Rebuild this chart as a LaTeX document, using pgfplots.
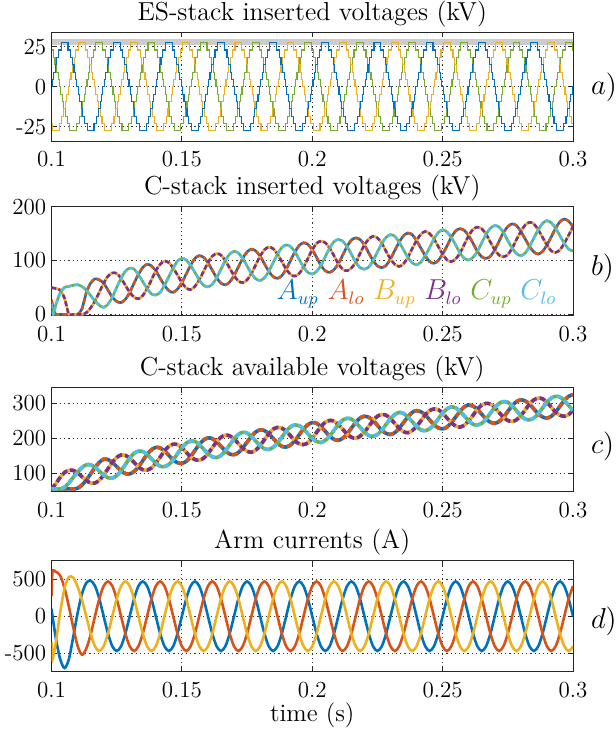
\documentclass[border=0pt]{standalone}
\usepackage{pgfplots}
\pgfplotsset{compat=1.18}
\usepackage{pgfplotstable}
\definecolor{mBlue}{rgb}{0,0.447,0.741}
\definecolor{mRed}{rgb}{0.850,0.325,0.098}
\definecolor{mYel}{rgb}{0.929,0.694,0.125}
\definecolor{mPur}{rgb}{0.494,0.184,0.556}
\definecolor{mGrn}{rgb}{0.466,0.674,0.188}
\definecolor{mCya}{rgb}{0.301,0.745,0.933}

% Panel b: C-stack inserted voltages (kV), A/B/C arm pairs (up = lo)
\pgfplotstableread[row sep=\\]{
t A B C\\
0.10000 27 50 20\\
0.10070 10 49 0\\
0.10167 0 48 18\\
0.10333 0 45 40\\
0.10500 0 30 50\\
0.10667 0 0 52\\
0.10833 0 0 54\\
0.11000 0 0 55\\
0.11167 10 0 52\\
0.11333 40 3 45\\
0.11500 58 12 35\\
0.11667 66 25 25\\
0.11833 64 41 17\\
0.12000 58 58 13\\
0.12167 45 71 19\\
0.12333 32 77 32\\
0.12500 24 76 50\\
0.12667 22 67 67\\
0.12833 28 54 80\\
0.13000 41 41 86\\
0.13167 58 32 84\\
0.13333 74 29 74\\
0.13500 87 35 61\\
0.13667 93 48 48\\
0.13833 90 64 38\\
0.14000 81 81 36\\
0.14167 67 93 41\\
0.14333 54 99 54\\
0.14500 44 96 70\\
0.14667 41 86 86\\
0.14833 47 73 99\\
0.15000 59 59 104\\
0.15167 75 49 101\\
0.15333 91 46 91\\
0.15500 104 52 78\\
0.15667 109 64 64\\
0.15833 106 80 54\\
0.16000 96 96 51\\
0.16167 82 108 56\\
0.16333 68 113 68\\
0.16500 58 110 84\\
0.16667 55 100 100\\
0.16833 60 86 112\\
0.17000 72 72 117\\
0.17167 88 62 114\\
0.17333 104 59 104\\
0.17500 116 64 90\\
0.17667 121 76 76\\
0.17833 118 92 66\\
0.18000 108 108 63\\
0.18167 94 120 68\\
0.18333 80 125 80\\
0.18500 70 122 96\\
0.18667 67 112 112\\
0.18833 72 98 124\\
0.19000 84 84 129\\
0.19167 100 74 126\\
0.19333 116 71 116\\
0.19500 128 76 102\\
0.19667 133 88 88\\
0.19833 130 104 78\\
0.20000 120 120 75\\
0.20167 106 132 80\\
0.20333 91 136 91\\
0.20500 81 133 107\\
0.20667 78 123 123\\
0.20833 83 109 135\\
0.21000 94 94 139\\
0.21167 110 84 136\\
0.21333 126 81 126\\
0.21500 138 86 112\\
0.21667 142 97 97\\
0.21833 139 113 87\\
0.22000 129 129 84\\
0.22167 114 140 88\\
0.22333 100 145 100\\
0.22500 90 142 116\\
0.22667 87 132 132\\
0.22833 91 117 143\\
0.23000 103 103 148\\
0.23167 119 93 145\\
0.23333 134 89 134\\
0.23500 146 94 120\\
0.23667 151 106 106\\
0.23833 148 122 96\\
0.24000 137 137 92\\
0.24167 123 149 97\\
0.24333 109 154 109\\
0.24500 98 150 124\\
0.24667 95 140 140\\
0.24833 100 126 152\\
0.25000 112 112 157\\
0.25167 127 101 153\\
0.25333 143 98 143\\
0.25500 155 103 129\\
0.25667 159 114 114\\
0.25833 156 130 104\\
0.26000 146 146 101\\
0.26167 132 158 106\\
0.26333 117 162 117\\
0.26500 107 159 133\\
0.26667 104 149 149\\
0.26833 108 134 160\\
0.27000 120 120 165\\
0.27167 136 110 162\\
0.27333 152 107 152\\
0.27500 163 111 137\\
0.27667 168 123 123\\
0.27833 165 139 113\\
0.28000 154 154 109\\
0.28167 140 166 114\\
0.28333 126 171 126\\
0.28500 116 168 142\\
0.28667 112 157 157\\
0.28833 117 143 169\\
0.29000 129 129 174\\
0.29167 144 118 170\\
0.29333 160 115 160\\
0.29500 172 120 146\\
0.29667 177 132 132\\
0.29833 173 147 121\\
0.30000 163 163 118\\
}\tabB

% Panel c: C-stack available voltages (kV)
\pgfplotstableread[row sep=\\]{
t A B C\\
0.10000 55 55 55\\
0.10167 55 70 55\\
0.10333 55 88 55\\
0.10500 55 102 60\\
0.10667 55 108 72\\
0.10833 55 108 88\\
0.11000 57 101 103\\
0.11167 66 90 116\\
0.11333 80 79 124\\
0.11500 98 72 124\\
0.11667 116 72 117\\
0.11833 131 80 106\\
0.12000 140 95 95\\
0.12167 139 113 87\\
0.12333 131 131 86\\
0.12500 119 145 93\\
0.12667 107 152 107\\
0.12833 99 151 125\\
0.13000 98 143 143\\
0.13167 105 131 157\\
0.13333 118 118 163\\
0.13500 136 110 162\\
0.13667 154 109 154\\
0.13833 167 115 141\\
0.14000 174 129 129\\
0.14167 172 146 120\\
0.14333 164 164 119\\
0.14500 151 177 125\\
0.14667 138 183 138\\
0.14833 130 182 156\\
0.15000 128 173 173\\
0.15167 134 160 186\\
0.15333 147 147 192\\
0.15500 165 139 191\\
0.15667 182 137 182\\
0.15833 195 143 169\\
0.16000 201 156 156\\
0.16167 199 173 147\\
0.16333 190 190 145\\
0.16500 177 203 151\\
0.16667 164 209 164\\
0.16833 155 207 181\\
0.17000 153 198 198\\
0.17167 159 185 211\\
0.17333 172 172 217\\
0.17500 189 163 215\\
0.17667 205 160 205\\
0.17833 218 166 192\\
0.18000 224 179 179\\
0.18167 222 196 170\\
0.18333 213 213 168\\
0.18500 200 226 174\\
0.18667 186 231 186\\
0.18833 177 229 203\\
0.19000 175 220 220\\
0.19167 181 207 233\\
0.19333 193 193 238\\
0.19500 210 184 236\\
0.19667 227 182 227\\
0.19833 239 187 213\\
0.20000 245 200 200\\
0.20167 243 217 191\\
0.20333 233 233 188\\
0.20500 220 246 194\\
0.20667 206 251 206\\
0.20833 197 249 223\\
0.21000 194 239 239\\
0.21167 200 226 252\\
0.21333 212 212 257\\
0.21500 229 203 255\\
0.21667 245 200 245\\
0.21833 258 206 232\\
0.22000 263 218 218\\
0.22167 260 234 208\\
0.22333 251 251 206\\
0.22500 237 263 211\\
0.22667 223 268 223\\
0.22833 214 266 240\\
0.23000 211 256 256\\
0.23167 216 242 268\\
0.23333 229 229 274\\
0.23500 245 219 271\\
0.23667 261 216 261\\
0.23833 274 222 248\\
0.24000 279 234 234\\
0.24167 276 250 224\\
0.24333 267 267 222\\
0.24500 253 279 227\\
0.24667 239 284 239\\
0.24833 230 282 256\\
0.25000 227 272 272\\
0.25167 232 258 284\\
0.25333 245 245 290\\
0.25500 261 235 287\\
0.25667 277 232 277\\
0.25833 290 238 264\\
0.26000 295 250 250\\
0.26167 292 266 240\\
0.26333 283 283 238\\
0.26500 269 295 243\\
0.26667 255 300 255\\
0.26833 246 298 272\\
0.27000 243 288 288\\
0.27167 248 274 300\\
0.27333 260 260 305\\
0.27500 277 251 303\\
0.27667 293 248 293\\
0.27833 305 253 279\\
0.28000 310 265 265\\
0.28167 307 281 255\\
0.28333 298 298 253\\
0.28500 284 310 258\\
0.28667 270 315 270\\
0.28833 261 313 287\\
0.29000 258 303 303\\
0.29167 263 289 315\\
0.29333 275 275 320\\
0.29500 292 266 318\\
0.29667 308 263 308\\
0.29833 320 268 294\\
0.30000 325 280 280\\
}\tabC

% Panel d: arm currents (A)
\pgfplotstableread[row sep=\\]{
t A B C\\
0.10000 100 270 -350\\
0.10040 0 600 -580\\
0.10167 -300 600 -350\\
0.10333 -580 550 50\\
0.10500 -700 380 380\\
0.10667 -580 130 530\\
0.10833 -280 -150 520\\
0.11000 40 -400 400\\
0.11167 300 -520 220\\
0.11333 450 -440 0\\
0.11500 480 -250 -235\\
0.11667 410 0 -407\\
0.11833 235 235 -470\\
0.12000 0 407 -407\\
0.12167 -235 470 -235\\
0.12333 -407 407 0\\
0.12500 -470 235 235\\
0.12667 -407 0 407\\
0.12833 -235 -235 470\\
0.13000 0 -407 407\\
0.13167 235 -470 235\\
0.13333 407 -407 0\\
0.13500 470 -235 -235\\
0.13667 407 0 -407\\
0.13833 235 235 -470\\
0.14000 0 407 -407\\
0.14167 -235 470 -235\\
0.14333 -407 407 0\\
0.14500 -470 235 235\\
0.14667 -407 0 407\\
0.14833 -235 -235 470\\
0.15000 0 -407 407\\
0.15167 235 -470 235\\
0.15333 407 -407 0\\
0.15500 470 -235 -235\\
0.15667 407 0 -407\\
0.15833 235 235 -470\\
0.16000 0 407 -407\\
0.16167 -235 470 -235\\
0.16333 -407 407 0\\
0.16500 -470 235 235\\
0.16667 -407 0 407\\
0.16833 -235 -235 470\\
0.17000 0 -407 407\\
0.17167 235 -470 235\\
0.17333 407 -407 0\\
0.17500 470 -235 -235\\
0.17667 407 0 -407\\
0.17833 235 235 -470\\
0.18000 0 407 -407\\
0.18167 -235 470 -235\\
0.18333 -407 407 0\\
0.18500 -470 235 235\\
0.18667 -407 0 407\\
0.18833 -235 -235 470\\
0.19000 0 -407 407\\
0.19167 235 -470 235\\
0.19333 407 -407 0\\
0.19500 470 -235 -235\\
0.19667 407 0 -407\\
0.19833 235 235 -470\\
0.20000 0 407 -407\\
0.20167 -235 470 -235\\
0.20333 -407 407 0\\
0.20500 -470 235 235\\
0.20667 -407 0 407\\
0.20833 -235 -235 470\\
0.21000 0 -407 407\\
0.21167 235 -470 235\\
0.21333 407 -407 0\\
0.21500 470 -235 -235\\
0.21667 407 0 -407\\
0.21833 235 235 -470\\
0.22000 0 407 -407\\
0.22167 -235 470 -235\\
0.22333 -407 407 0\\
0.22500 -470 235 235\\
0.22667 -407 0 407\\
0.22833 -235 -235 470\\
0.23000 0 -407 407\\
0.23167 235 -470 235\\
0.23333 407 -407 0\\
0.23500 470 -235 -235\\
0.23667 407 0 -407\\
0.23833 235 235 -470\\
0.24000 0 407 -407\\
0.24167 -235 470 -235\\
0.24333 -407 407 0\\
0.24500 -470 235 235\\
0.24667 -407 0 407\\
0.24833 -235 -235 470\\
0.25000 0 -407 407\\
0.25167 235 -470 235\\
0.25333 407 -407 0\\
0.25500 470 -235 -235\\
0.25667 407 0 -407\\
0.25833 235 235 -470\\
0.26000 0 407 -407\\
0.26167 -235 470 -235\\
0.26333 -407 407 0\\
0.26500 -470 235 235\\
0.26667 -407 0 407\\
0.26833 -235 -235 470\\
0.27000 0 -407 407\\
0.27167 235 -470 235\\
0.27333 407 -407 0\\
0.27500 470 -235 -235\\
0.27667 407 0 -407\\
0.27833 235 235 -470\\
0.28000 0 407 -407\\
0.28167 -235 470 -235\\
0.28333 -407 407 0\\
0.28500 -470 235 235\\
0.28667 -407 0 407\\
0.28833 -235 -235 470\\
0.29000 0 -407 407\\
0.29167 235 -470 235\\
0.29333 407 -407 0\\
0.29500 470 -235 -235\\
0.29667 407 0 -407\\
0.29833 235 235 -470\\
0.30000 0 407 -407\\
}\tabD

\pgfplotsset{
  panel/.style={
    scale only axis, width=260.75pt, anchor=south west,
    xmin=0.1, xmax=0.3,
    xtick={0.1,0.15,0.2,0.25,0.3},
    xticklabels={0.1,0.15,0.2,0.25,0.3},
    grid=major,
    major grid style={black!80, line width=0.4pt, dash pattern=on 0.6pt off 1.5pt},
    axis line style={black!85, line width=0.5pt},
    tick align=inside, major tick length=2.6pt,
    tick style={black!85, line width=0.5pt},
    ticklabel style={font=\fontsize{11.5}{13}\selectfont},
    xticklabel style={anchor=base, yshift=-12.85pt},
    yticklabel style={anchor=east, inner sep=0pt, xshift=-2.5pt},
    title style={anchor=base, font=\fontsize{13}{15}\selectfont},
  }
}

\begin{document}
\begin{tikzpicture}
% ---------------- panel a ----------------
\begin{axis}[panel, at={(25.75pt,296.35pt)}, height=54.5pt,
  ymin=-34, ymax=34, ytick={-25,0,25}, yticklabels={-25,0,25},
  title={ES-stack inserted voltages (kV)}]
\addplot[gray!40, line width=2.8pt] coordinates {(0.1,27.9) (0.3,27.9)};
\addplot[mGrn, line width=0.55pt, const plot] coordinates {
(0.1,22.92)
(0.10063,18.33)(0.10135,13.75)(0.10197,9.17)(0.10253,4.58)(0.10307,0)(0.10360,-4.58)(0.10414,-9.17)(0.10470,-13.75)(0.10532,-18.33)(0.10603,-22.92)(0.10702,-27.5)(0.10964,-22.92)
(0.11063,-18.33)(0.11135,-13.75)(0.11197,-9.17)(0.11253,-4.58)(0.11307,0)(0.11360,4.58)(0.11414,9.17)(0.11470,13.75)(0.11532,18.33)(0.11603,22.92)(0.11702,27.5)(0.11964,22.92)
(0.12063,18.33)(0.12135,13.75)(0.12197,9.17)(0.12253,4.58)(0.12307,0)(0.12360,-4.58)(0.12414,-9.17)(0.12470,-13.75)(0.12532,-18.33)(0.12603,-22.92)(0.12702,-27.5)(0.12964,-22.92)
(0.13063,-18.33)(0.13135,-13.75)(0.13197,-9.17)(0.13253,-4.58)(0.13307,0)(0.13360,4.58)(0.13414,9.17)(0.13470,13.75)(0.13532,18.33)(0.13603,22.92)(0.13702,27.5)(0.13964,22.92)
(0.14063,18.33)(0.14135,13.75)(0.14197,9.17)(0.14253,4.58)(0.14307,0)(0.14360,-4.58)(0.14414,-9.17)(0.14470,-13.75)(0.14532,-18.33)(0.14603,-22.92)(0.14702,-27.5)(0.14964,-22.92)
(0.15063,-18.33)(0.15135,-13.75)(0.15197,-9.17)(0.15253,-4.58)(0.15307,0)(0.15360,4.58)(0.15414,9.17)(0.15470,13.75)(0.15532,18.33)(0.15603,22.92)(0.15702,27.5)(0.15964,22.92)
(0.16063,18.33)(0.16135,13.75)(0.16197,9.17)(0.16253,4.58)(0.16307,0)(0.16360,-4.58)(0.16414,-9.17)(0.16470,-13.75)(0.16532,-18.33)(0.16603,-22.92)(0.16702,-27.5)(0.16964,-22.92)
(0.17063,-18.33)(0.17135,-13.75)(0.17197,-9.17)(0.17253,-4.58)(0.17307,0)(0.17360,4.58)(0.17414,9.17)(0.17470,13.75)(0.17532,18.33)(0.17603,22.92)(0.17702,27.5)(0.17964,22.92)
(0.18063,18.33)(0.18135,13.75)(0.18197,9.17)(0.18253,4.58)(0.18307,0)(0.18360,-4.58)(0.18414,-9.17)(0.18470,-13.75)(0.18532,-18.33)(0.18603,-22.92)(0.18702,-27.5)(0.18964,-22.92)
(0.19063,-18.33)(0.19135,-13.75)(0.19197,-9.17)(0.19253,-4.58)(0.19307,0)(0.19360,4.58)(0.19414,9.17)(0.19470,13.75)(0.19532,18.33)(0.19603,22.92)(0.19702,27.5)(0.19964,22.92)
(0.20063,18.33)(0.20135,13.75)(0.20197,9.17)(0.20253,4.58)(0.20307,0)(0.20360,-4.58)(0.20414,-9.17)(0.20470,-13.75)(0.20532,-18.33)(0.20603,-22.92)(0.20702,-27.5)(0.20964,-22.92)
(0.21063,-18.33)(0.21135,-13.75)(0.21197,-9.17)(0.21253,-4.58)(0.21307,0)(0.21360,4.58)(0.21414,9.17)(0.21470,13.75)(0.21532,18.33)(0.21603,22.92)(0.21702,27.5)(0.21964,22.92)
(0.22063,18.33)(0.22135,13.75)(0.22197,9.17)(0.22253,4.58)(0.22307,0)(0.22360,-4.58)(0.22414,-9.17)(0.22470,-13.75)(0.22532,-18.33)(0.22603,-22.92)(0.22702,-27.5)(0.22964,-22.92)
(0.23063,-18.33)(0.23135,-13.75)(0.23197,-9.17)(0.23253,-4.58)(0.23307,0)(0.23360,4.58)(0.23414,9.17)(0.23470,13.75)(0.23532,18.33)(0.23603,22.92)(0.23702,27.5)(0.23964,22.92)
(0.24063,18.33)(0.24135,13.75)(0.24197,9.17)(0.24253,4.58)(0.24307,0)(0.24360,-4.58)(0.24414,-9.17)(0.24470,-13.75)(0.24532,-18.33)(0.24603,-22.92)(0.24702,-27.5)(0.24964,-22.92)
(0.25063,-18.33)(0.25135,-13.75)(0.25197,-9.17)(0.25253,-4.58)(0.25307,0)(0.25360,4.58)(0.25414,9.17)(0.25470,13.75)(0.25532,18.33)(0.25603,22.92)(0.25702,27.5)(0.25964,22.92)
(0.26063,18.33)(0.26135,13.75)(0.26197,9.17)(0.26253,4.58)(0.26307,0)(0.26360,-4.58)(0.26414,-9.17)(0.26470,-13.75)(0.26532,-18.33)(0.26603,-22.92)(0.26702,-27.5)(0.26964,-22.92)
(0.27063,-18.33)(0.27135,-13.75)(0.27197,-9.17)(0.27253,-4.58)(0.27307,0)(0.27360,4.58)(0.27414,9.17)(0.27470,13.75)(0.27532,18.33)(0.27603,22.92)(0.27702,27.5)(0.27964,22.92)
(0.28063,18.33)(0.28135,13.75)(0.28197,9.17)(0.28253,4.58)(0.28307,0)(0.28360,-4.58)(0.28414,-9.17)(0.28470,-13.75)(0.28532,-18.33)(0.28603,-22.92)(0.28702,-27.5)(0.28964,-22.92)
(0.29063,-18.33)(0.29135,-13.75)(0.29197,-9.17)(0.29253,-4.58)(0.29307,0)(0.29360,4.58)(0.29414,9.17)(0.29470,13.75)(0.29532,18.33)(0.29603,22.92)(0.29702,27.5)(0.29964,22.92)
(0.3,22.92)};
\addplot[mYel, line width=0.55pt, const plot] coordinates {
(0.1,-22.92)
(0.10036,-27.5)(0.10298,-22.92)(0.10397,-18.33)(0.10468,-13.75)(0.10530,-9.17)(0.10586,-4.58)(0.10640,0)(0.10693,4.58)(0.10747,9.17)(0.10803,13.75)(0.10865,18.33)(0.10937,22.92)
(0.11036,27.5)(0.11298,22.92)(0.11397,18.33)(0.11468,13.75)(0.11530,9.17)(0.11586,4.58)(0.11640,0)(0.11693,-4.58)(0.11747,-9.17)(0.11803,-13.75)(0.11865,-18.33)(0.11937,-22.92)
(0.12036,-27.5)(0.12298,-22.92)(0.12397,-18.33)(0.12468,-13.75)(0.12530,-9.17)(0.12586,-4.58)(0.12640,0)(0.12693,4.58)(0.12747,9.17)(0.12803,13.75)(0.12865,18.33)(0.12937,22.92)
(0.13036,27.5)(0.13298,22.92)(0.13397,18.33)(0.13468,13.75)(0.13530,9.17)(0.13586,4.58)(0.13640,0)(0.13693,-4.58)(0.13747,-9.17)(0.13803,-13.75)(0.13865,-18.33)(0.13937,-22.92)
(0.14036,-27.5)(0.14298,-22.92)(0.14397,-18.33)(0.14468,-13.75)(0.14530,-9.17)(0.14586,-4.58)(0.14640,0)(0.14693,4.58)(0.14747,9.17)(0.14803,13.75)(0.14865,18.33)(0.14937,22.92)
(0.15036,27.5)(0.15298,22.92)(0.15397,18.33)(0.15468,13.75)(0.15530,9.17)(0.15586,4.58)(0.15640,0)(0.15693,-4.58)(0.15747,-9.17)(0.15803,-13.75)(0.15865,-18.33)(0.15937,-22.92)
(0.16036,-27.5)(0.16298,-22.92)(0.16397,-18.33)(0.16468,-13.75)(0.16530,-9.17)(0.16586,-4.58)(0.16640,0)(0.16693,4.58)(0.16747,9.17)(0.16803,13.75)(0.16865,18.33)(0.16937,22.92)
(0.17036,27.5)(0.17298,22.92)(0.17397,18.33)(0.17468,13.75)(0.17530,9.17)(0.17586,4.58)(0.17640,0)(0.17693,-4.58)(0.17747,-9.17)(0.17803,-13.75)(0.17865,-18.33)(0.17937,-22.92)
(0.18036,-27.5)(0.18298,-22.92)(0.18397,-18.33)(0.18468,-13.75)(0.18530,-9.17)(0.18586,-4.58)(0.18640,0)(0.18693,4.58)(0.18747,9.17)(0.18803,13.75)(0.18865,18.33)(0.18937,22.92)
(0.19036,27.5)(0.19298,22.92)(0.19397,18.33)(0.19468,13.75)(0.19530,9.17)(0.19586,4.58)(0.19640,0)(0.19693,-4.58)(0.19747,-9.17)(0.19803,-13.75)(0.19865,-18.33)(0.19937,-22.92)
(0.20036,-27.5)(0.20298,-22.92)(0.20397,-18.33)(0.20468,-13.75)(0.20530,-9.17)(0.20586,-4.58)(0.20640,0)(0.20693,4.58)(0.20747,9.17)(0.20803,13.75)(0.20865,18.33)(0.20937,22.92)
(0.21036,27.5)(0.21298,22.92)(0.21397,18.33)(0.21468,13.75)(0.21530,9.17)(0.21586,4.58)(0.21640,0)(0.21693,-4.58)(0.21747,-9.17)(0.21803,-13.75)(0.21865,-18.33)(0.21937,-22.92)
(0.22036,-27.5)(0.22298,-22.92)(0.22397,-18.33)(0.22468,-13.75)(0.22530,-9.17)(0.22586,-4.58)(0.22640,0)(0.22693,4.58)(0.22747,9.17)(0.22803,13.75)(0.22865,18.33)(0.22937,22.92)
(0.23036,27.5)(0.23298,22.92)(0.23397,18.33)(0.23468,13.75)(0.23530,9.17)(0.23586,4.58)(0.23640,0)(0.23693,-4.58)(0.23747,-9.17)(0.23803,-13.75)(0.23865,-18.33)(0.23937,-22.92)
(0.24036,-27.5)(0.24298,-22.92)(0.24397,-18.33)(0.24468,-13.75)(0.24530,-9.17)(0.24586,-4.58)(0.24640,0)(0.24693,4.58)(0.24747,9.17)(0.24803,13.75)(0.24865,18.33)(0.24937,22.92)
(0.25036,27.5)(0.25298,22.92)(0.25397,18.33)(0.25468,13.75)(0.25530,9.17)(0.25586,4.58)(0.25640,0)(0.25693,-4.58)(0.25747,-9.17)(0.25803,-13.75)(0.25865,-18.33)(0.25937,-22.92)
(0.26036,-27.5)(0.26298,-22.92)(0.26397,-18.33)(0.26468,-13.75)(0.26530,-9.17)(0.26586,-4.58)(0.26640,0)(0.26693,4.58)(0.26747,9.17)(0.26803,13.75)(0.26865,18.33)(0.26937,22.92)
(0.27036,27.5)(0.27298,22.92)(0.27397,18.33)(0.27468,13.75)(0.27530,9.17)(0.27586,4.58)(0.27640,0)(0.27693,-4.58)(0.27747,-9.17)(0.27803,-13.75)(0.27865,-18.33)(0.27937,-22.92)
(0.28036,-27.5)(0.28298,-22.92)(0.28397,-18.33)(0.28468,-13.75)(0.28530,-9.17)(0.28586,-4.58)(0.28640,0)(0.28693,4.58)(0.28747,9.17)(0.28803,13.75)(0.28865,18.33)(0.28937,22.92)
(0.29036,27.5)(0.29298,22.92)(0.29397,18.33)(0.29468,13.75)(0.29530,9.17)(0.29586,4.58)(0.29640,0)(0.29693,-4.58)(0.29747,-9.17)(0.29803,-13.75)(0.29865,-18.33)(0.29937,-22.92)
(0.3,-22.92)};
\addplot[mBlue, line width=0.55pt, const plot] coordinates {
(0.1,0)
(0.10027,4.58)(0.10080,9.17)(0.10137,13.75)(0.10198,18.33)(0.10270,22.92)(0.10369,27.5)(0.10631,22.92)(0.10730,18.33)(0.10802,13.75)(0.10863,9.17)(0.10920,4.58)(0.10973,0)
(0.11027,-4.58)(0.11080,-9.17)(0.11137,-13.75)(0.11198,-18.33)(0.11270,-22.92)(0.11369,-27.5)(0.11631,-22.92)(0.11730,-18.33)(0.11802,-13.75)(0.11863,-9.17)(0.11920,-4.58)(0.11973,0)
(0.12027,4.58)(0.12080,9.17)(0.12137,13.75)(0.12198,18.33)(0.12270,22.92)(0.12369,27.5)(0.12631,22.92)(0.12730,18.33)(0.12802,13.75)(0.12863,9.17)(0.12920,4.58)(0.12973,0)
(0.13027,-4.58)(0.13080,-9.17)(0.13137,-13.75)(0.13198,-18.33)(0.13270,-22.92)(0.13369,-27.5)(0.13631,-22.92)(0.13730,-18.33)(0.13802,-13.75)(0.13863,-9.17)(0.13920,-4.58)(0.13973,0)
(0.14027,4.58)(0.14080,9.17)(0.14137,13.75)(0.14198,18.33)(0.14270,22.92)(0.14369,27.5)(0.14631,22.92)(0.14730,18.33)(0.14802,13.75)(0.14863,9.17)(0.14920,4.58)(0.14973,0)
(0.15027,-4.58)(0.15080,-9.17)(0.15137,-13.75)(0.15198,-18.33)(0.15270,-22.92)(0.15369,-27.5)(0.15631,-22.92)(0.15730,-18.33)(0.15802,-13.75)(0.15863,-9.17)(0.15920,-4.58)(0.15973,0)
(0.16027,4.58)(0.16080,9.17)(0.16137,13.75)(0.16198,18.33)(0.16270,22.92)(0.16369,27.5)(0.16631,22.92)(0.16730,18.33)(0.16802,13.75)(0.16863,9.17)(0.16920,4.58)(0.16973,0)
(0.17027,-4.58)(0.17080,-9.17)(0.17137,-13.75)(0.17198,-18.33)(0.17270,-22.92)(0.17369,-27.5)(0.17631,-22.92)(0.17730,-18.33)(0.17802,-13.75)(0.17863,-9.17)(0.17920,-4.58)(0.17973,0)
(0.18027,4.58)(0.18080,9.17)(0.18137,13.75)(0.18198,18.33)(0.18270,22.92)(0.18369,27.5)(0.18631,22.92)(0.18730,18.33)(0.18802,13.75)(0.18863,9.17)(0.18920,4.58)(0.18973,0)
(0.19027,-4.58)(0.19080,-9.17)(0.19137,-13.75)(0.19198,-18.33)(0.19270,-22.92)(0.19369,-27.5)(0.19631,-22.92)(0.19730,-18.33)(0.19802,-13.75)(0.19863,-9.17)(0.19920,-4.58)(0.19973,0)
(0.20027,4.58)(0.20080,9.17)(0.20137,13.75)(0.20198,18.33)(0.20270,22.92)(0.20369,27.5)(0.20631,22.92)(0.20730,18.33)(0.20802,13.75)(0.20863,9.17)(0.20920,4.58)(0.20973,0)
(0.21027,-4.58)(0.21080,-9.17)(0.21137,-13.75)(0.21198,-18.33)(0.21270,-22.92)(0.21369,-27.5)(0.21631,-22.92)(0.21730,-18.33)(0.21802,-13.75)(0.21863,-9.17)(0.21920,-4.58)(0.21973,0)
(0.22027,4.58)(0.22080,9.17)(0.22137,13.75)(0.22198,18.33)(0.22270,22.92)(0.22369,27.5)(0.22631,22.92)(0.22730,18.33)(0.22802,13.75)(0.22863,9.17)(0.22920,4.58)(0.22973,0)
(0.23027,-4.58)(0.23080,-9.17)(0.23137,-13.75)(0.23198,-18.33)(0.23270,-22.92)(0.23369,-27.5)(0.23631,-22.92)(0.23730,-18.33)(0.23802,-13.75)(0.23863,-9.17)(0.23920,-4.58)(0.23973,0)
(0.24027,4.58)(0.24080,9.17)(0.24137,13.75)(0.24198,18.33)(0.24270,22.92)(0.24369,27.5)(0.24631,22.92)(0.24730,18.33)(0.24802,13.75)(0.24863,9.17)(0.24920,4.58)(0.24973,0)
(0.25027,-4.58)(0.25080,-9.17)(0.25137,-13.75)(0.25198,-18.33)(0.25270,-22.92)(0.25369,-27.5)(0.25631,-22.92)(0.25730,-18.33)(0.25802,-13.75)(0.25863,-9.17)(0.25920,-4.58)(0.25973,0)
(0.26027,4.58)(0.26080,9.17)(0.26137,13.75)(0.26198,18.33)(0.26270,22.92)(0.26369,27.5)(0.26631,22.92)(0.26730,18.33)(0.26802,13.75)(0.26863,9.17)(0.26920,4.58)(0.26973,0)
(0.27027,-4.58)(0.27080,-9.17)(0.27137,-13.75)(0.27198,-18.33)(0.27270,-22.92)(0.27369,-27.5)(0.27631,-22.92)(0.27730,-18.33)(0.27802,-13.75)(0.27863,-9.17)(0.27920,-4.58)(0.27973,0)
(0.28027,4.58)(0.28080,9.17)(0.28137,13.75)(0.28198,18.33)(0.28270,22.92)(0.28369,27.5)(0.28631,22.92)(0.28730,18.33)(0.28802,13.75)(0.28863,9.17)(0.28920,4.58)(0.28973,0)
(0.29027,-4.58)(0.29080,-9.17)(0.29137,-13.75)(0.29198,-18.33)(0.29270,-22.92)(0.29369,-27.5)(0.29631,-22.92)(0.29730,-18.33)(0.29802,-13.75)(0.29863,-9.17)(0.29920,-4.58)(0.29973,0)
(0.3,0)};
\end{axis}
% ---------------- panel b ----------------
\begin{axis}[panel, at={(25.75pt,209pt)}, height=54.65pt,
  ymin=-3, ymax=200, ytick={0,100,200}, yticklabels={0,100,200},
  title={C-stack inserted voltages (kV)}]
\addplot[mBlue, line width=1.3pt, smooth] table[x=t,y=A] {\tabB};
\addplot[mRed, line width=1.3pt, smooth, dash pattern=on 2.4pt off 1.2pt] table[x=t,y=A] {\tabB};
\addplot[mYel, line width=1.3pt, smooth] table[x=t,y=B] {\tabB};
\addplot[mPur, line width=1.3pt, smooth, dash pattern=on 2.4pt off 1.2pt] table[x=t,y=B] {\tabB};
\addplot[mGrn, line width=1.3pt, smooth] table[x=t,y=C] {\tabB};
\addplot[mCya, line width=1.3pt, smooth, dash pattern=on 2.4pt off 1.2pt] table[x=t,y=C] {\tabB};
\end{axis}
% ---------------- panel c ----------------
\begin{axis}[panel, at={(25.75pt,121.15pt)}, height=52.2pt,
  ymin=47, ymax=346, ytick={100,200,300}, yticklabels={100,200,300},
  title={C-stack available voltages (kV)}]
\addplot[mBlue, line width=1.8pt, smooth] table[x=t,y=A] {\tabC};
\addplot[mRed, line width=1.8pt, smooth, dash pattern=on 3pt off 1.5pt] table[x=t,y=A] {\tabC};
\addplot[mYel, line width=1.8pt, smooth] table[x=t,y=B] {\tabC};
\addplot[mPur, line width=1.8pt, smooth, dash pattern=on 3pt off 1.5pt] table[x=t,y=B] {\tabC};
\addplot[mGrn, line width=1.8pt, smooth] table[x=t,y=C] {\tabC};
\addplot[mCya, line width=1.8pt, smooth, dash pattern=on 3pt off 1.5pt] table[x=t,y=C] {\tabC};
\end{axis}
% ---------------- panel d ----------------
\begin{axis}[panel, at={(25.75pt,31.15pt)}, height=55.5pt,
  ymin=-750, ymax=750, ytick={-500,0,500}, yticklabels={-500,0,500},
  title={Arm currents (A)},
  xlabel={time (s)},
  xlabel style={at={(0.5,0)}, anchor=base, yshift=-24.65pt, font=\fontsize{12.5}{14}\selectfont}]
\addplot[mBlue, line width=1.3pt, smooth] table[x=t,y=A] {\tabD};
\addplot[mRed, line width=1.3pt, smooth] table[x=t,y=B] {\tabD};
\addplot[mYel, line width=1.3pt, smooth] table[x=t,y=C] {\tabD};
\end{axis}
% ---------------- labels ----------------
\node[anchor=base west, inner sep=0pt, font=\fontsize{13.5}{16}\selectfont] at (295.3pt,319.75pt) {$a)$};
\node[anchor=base west, inner sep=0pt, font=\fontsize{13.5}{16}\selectfont] at (295.3pt,229.25pt) {$b)$};
\node[anchor=base west, inner sep=0pt, font=\fontsize{13.5}{16}\selectfont] at (295.3pt,140.25pt) {$c)$};
\node[anchor=base west, inner sep=0pt, font=\fontsize{13.5}{16}\selectfont] at (295.3pt,52.75pt) {$d)$};
\node[anchor=base east, inner sep=0pt, font=\fontsize{13.5}{15}\selectfont] at (278.35pt,217pt)
 {\textcolor{mBlue}{$A_{up}$} \textcolor{mRed}{$A_{lo}$} \textcolor{mYel}{$B_{up}$} \textcolor{mPur}{$B_{lo}$} \textcolor{mGrn}{$C_{up}$} \textcolor{mCya}{$C_{lo}$}};
\pgfresetboundingbox
\path[use as bounding box] (0pt,0pt) rectangle (308pt,367pt);
\end{tikzpicture}
\end{document}
